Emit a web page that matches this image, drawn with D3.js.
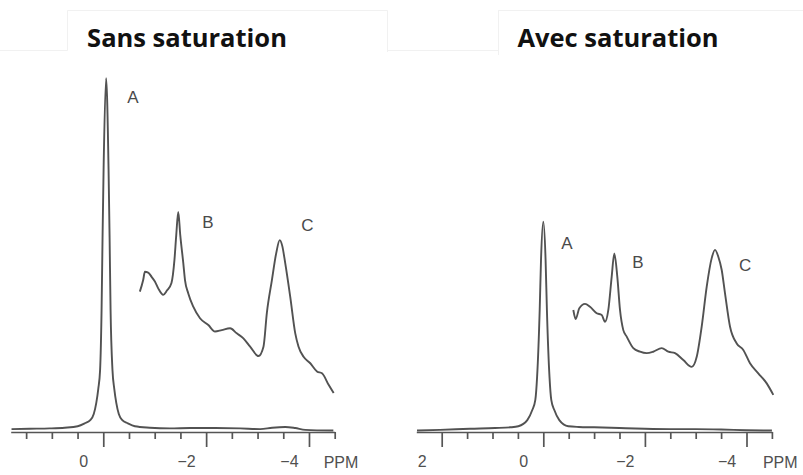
<!DOCTYPE html>
<html><head><meta charset="utf-8">
<script src="https://cdn.jsdelivr.net/npm/d3@7/dist/d3.min.js"></script>
<style>
html,body{margin:0;padding:0;background:#fff;}
svg{display:block;}
</style></head>
<body>
<svg id="chart" width="803" height="475"></svg>
<script>
// ---- DATA (ppm, relative intensity) ----
const titles = ["Sans saturation", "Avec saturation"];
const peakLabels = ["A", "B", "C"];

// Left panel: full trace
const leftMainPpm = [1.784,1.433,1.043,0.750,0.497,0.361,0.253,0.185,0.136,0.097,0.062,0.033,0.014,-0.006,-0.055,-0.103,-0.123,-0.142,-0.179,-0.214,-0.253,-0.302,-0.370,-0.478,-0.614,-0.906,-1.296,-1.686,-2.173,-2.661,-3.051,-3.285,-3.538,-3.733,-3.928,-4.474];
const leftMainI   = [0.8,0.9,1.0,1.2,1.6,2.4,3.3,5.0,8.1,12.0,17.2,33.9,54.0,72.8,98.3,72.8,54.0,33.9,17.2,12.0,8.1,5.0,3.3,2.4,1.6,1.2,1.0,1.1,1.1,1.0,0.8,1.2,1.4,1.1,0.6,0.4];
// Left panel: expanded trace
const leftExpPpm = [-0.711,-0.776,-0.809,-0.873,-0.940,-1.004,-1.068,-1.166,-1.238,-1.326,-1.384,-1.419,-1.458,-1.497,-1.556,-1.589,-1.653,-1.750,-1.881,-2.043,-2.173,-2.304,-2.466,-2.596,-2.725,-2.856,-3.018,-3.115,-3.181,-3.279,-3.363,-3.431,-3.480,-3.538,-3.635,-3.733,-3.797,-3.895,-4.025,-4.156,-4.253,-4.382,-4.480];
const leftExpI   = [39.0,42.2,44.5,44.3,43.1,41.8,39.9,38.1,39.3,41.4,47.8,54.7,61.1,54.7,46.9,42.2,38.5,34.8,31.6,29.7,27.9,28.3,28.8,27.4,26.0,23.7,21.1,23.7,33.1,42.2,49.7,53.3,51.7,46.9,37.6,27.4,23.7,20.9,19.1,16.8,16.3,13.1,10.8];

// Right panel: full trace
const rightMainPpm = [2.486,2.033,1.443,0.951,0.650,0.492,0.315,0.217,0.157,0.122,0.071,0.045,0.0,-0.045,-0.071,-0.122,-0.157,-0.217,-0.315,-0.492,-0.700,-1.000,-1.500,-2.000,-2.500,-3.000,-3.500,-4.000,-4.500];
const rightMainI   = [0.4,0.6,0.9,1.1,1.3,1.6,3.3,6.1,8.9,15.3,33.9,47.8,58.4,47.8,33.9,15.3,8.9,6.1,3.3,1.6,1.4,1.3,1.1,0.9,0.8,0.8,0.7,0.5,0.4];
// Right panel: expanded trace
const rightExpPpm = [-0.591,-0.638,-0.709,-0.821,-0.919,-1.051,-1.150,-1.215,-1.280,-1.346,-1.398,-1.457,-1.510,-1.575,-1.642,-1.772,-1.904,-2.035,-2.165,-2.331,-2.461,-2.593,-2.756,-2.921,-3.020,-3.118,-3.217,-3.315,-3.380,-3.445,-3.512,-3.577,-3.675,-3.807,-3.937,-4.069,-4.232,-4.398,-4.528];
const rightExpI   = [33.9,31.4,34.4,35.6,34.8,33.0,32.5,30.6,33.9,43.1,49.6,43.1,33.9,28.3,26.5,23.3,22.3,21.9,22.3,23.3,22.3,21.9,20.0,18.1,20.9,29.3,40.4,48.3,50.6,48.7,45.0,38.5,29.3,24.6,22.8,19.1,16.3,13.5,10.3];

// Peak label anchors (ppm, intensity)
const leftLabelPpm  = [-0.575, -2.037, -3.967];
const leftLabelI    = [93.0, 58.3, 57.5];
const rightLabelPpm = [-0.467, -1.864, -3.971];
const rightLabelI   = [52.5, 47.2, 46.4];

// Axis ticks
const leftMinorTicks  = [1.5,1,0.5,-0.5,-1,-1.5,-2.5,-3,-3.5,-4.5];
const leftMajorTicks  = [0,-2,-4];
const rightMinorTicks = [1.5,1,0.5,-0.5,-1,-1.5,-2.5,-3,-3.5,-4.5];
const rightMajorTicks = [2,0,-2,-4];
const axisUnit = "PPM";

// ---- DRAW ----
const svg = d3.select("#chart");
const lineColor = "#525252";

// faint text-box edges from the scan
const faint = svg.append("g").attr("stroke","#f1f1f1").attr("stroke-width",1).attr("fill","none");
faint.append("path").attr("d","M0,50.5H67.5V10.5H387.5V52M387.5,50.5H400");
faint.append("path").attr("d","M400,50.5H498.5V10.5H803M498.5,10.5V55");

const y = d3.scaleLinear().domain([0,100]).range([432,72]);

const panels = [
  {title: titles[0], cx: 187, domain:[1.8,-4.5], range:[10.7,334.7],
   mainP:leftMainPpm, mainI:leftMainI, expP:leftExpPpm, expI:leftExpI,
   labP:leftLabelPpm, labI:leftLabelI, minor:leftMinorTicks, major:leftMajorTicks, unitDx: -11},
  {title: titles[1], cx: 618, domain:[2.5,-4.5], range:[416.3,771.9],
   mainP:rightMainPpm, mainI:rightMainI, expP:rightExpPpm, expI:rightExpI,
   labP:rightLabelPpm, labI:rightLabelI, minor:rightMinorTicks, major:rightMajorTicks, unitDx: -9}
];

panels.forEach(p => {
  const x = d3.scaleLinear().domain(p.domain).range(p.range);
  const g = svg.append("g");

  g.append("text")
    .attr("x", p.cx).attr("y", 47)
    .attr("text-anchor","middle")
    .attr("font-family","'Open Sans', sans-serif")
    .attr("font-weight",700)
    .attr("font-size",25.5)
    .attr("fill","#111")
    .text(p.title);

  // axis: minor ticks
  const minorAxis = d3.axisBottom(x).tickValues(p.minor).tickSize(7).tickSizeOuter(0).tickFormat("");
  const gm = g.append("g").attr("transform","translate(0,432)").call(minorAxis);
  gm.select(".domain").attr("stroke","#555").attr("stroke-width",1.7);
  gm.selectAll(".tick line").attr("stroke","#555").attr("stroke-width",1.7);

  // axis: major ticks with labels
  const majorAxis = d3.axisBottom(x).tickValues(p.major).tickSize(15).tickSizeOuter(0)
      .tickFormat(d => d < 0 ? "\u2212" + Math.abs(d) : String(d));
  const gM = g.append("g").attr("transform","translate(0,432)").call(majorAxis);
  gM.select(".domain").remove();
  gM.selectAll(".tick line").attr("stroke","#555").attr("stroke-width",1.7);
  gM.selectAll(".tick text")
    .attr("font-family","'Liberation Sans', Arial, sans-serif")
    .attr("font-size",16).attr("fill","#505050")
    .attr("y",24).attr("dx", -20);

  g.append("text")
    .attr("x", x(-4.5) + p.unitDx).attr("y", 468)
    .attr("font-family","'Liberation Sans', Arial, sans-serif")
    .attr("font-size",16).attr("fill","#505050")
    .text(axisUnit);

  const line = d3.line().x(d => x(d[0])).y(d => y(d[1])).curve(d3.curveMonotoneX);
  const main = p.mainP.map((v,i) => [v, p.mainI[i]]);
  const exp  = p.expP.map((v,i) => [v, p.expI[i]]);

  g.append("path").datum(main).attr("d", line)
    .attr("fill","none").attr("stroke",lineColor).attr("stroke-width",1.9).attr("stroke-linejoin","round");
  g.append("path").datum(exp).attr("d", line)
    .attr("fill","none").attr("stroke",lineColor).attr("stroke-width",1.9).attr("stroke-linejoin","round");

  g.selectAll("text.peak").data(peakLabels).enter().append("text")
    .attr("class","peak")
    .attr("x",(d,i) => x(p.labP[i])).attr("y",(d,i) => y(p.labI[i]))
    .attr("dy","0.35em").attr("text-anchor","middle")
    .attr("font-family","'Liberation Sans', Arial, sans-serif")
    .attr("font-size",17).attr("fill","#4a4a4a")
    .text(d => d);
});
</script>
</body></html>
